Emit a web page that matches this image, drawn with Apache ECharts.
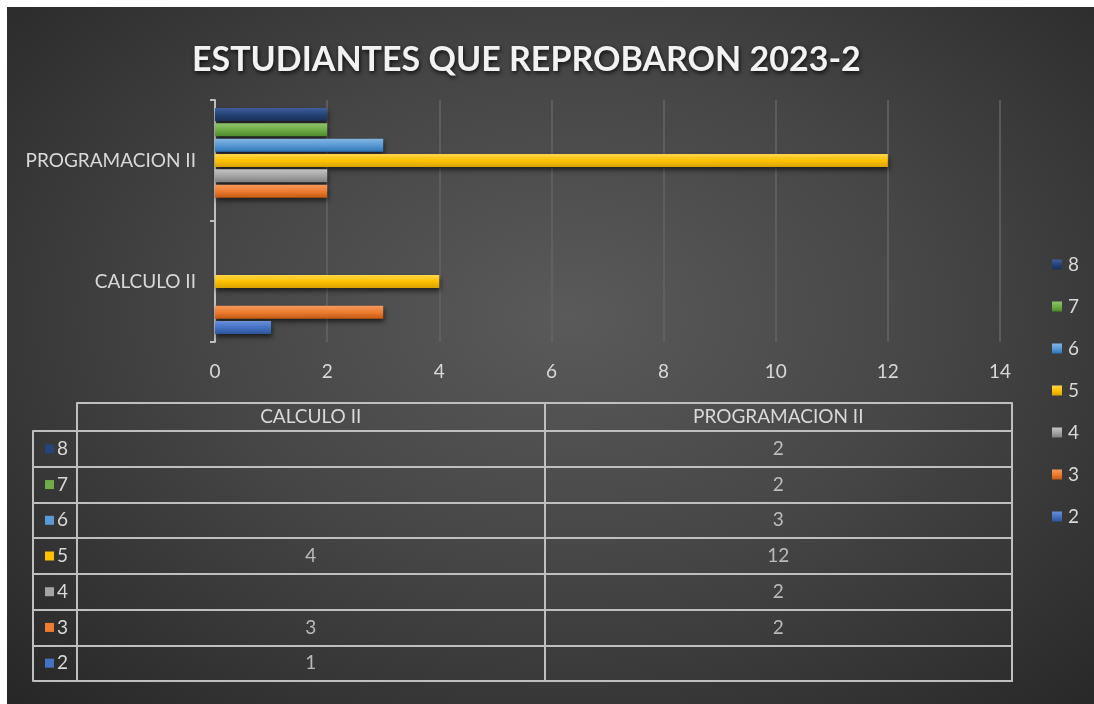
<!DOCTYPE html>
<html>
<head>
<meta charset="utf-8">
<script src="https://cdn.jsdelivr.net/npm/echarts@6/dist/echarts.min.js"></script>
<style>
html,body{margin:0;padding:0;background:#fff;}
#chart{position:absolute;left:0;top:0;width:1094px;height:704px;
background:
 linear-gradient(#fff,#fff) left top/100% 7px no-repeat,
 linear-gradient(#fff,#fff) left top/7px 100% no-repeat,
 radial-gradient(ellipse at 52% 45%, #5a5a5a 0%, #464646 45%, #262626 100%);}
</style>
</head>
<body>
<div id="chart"></div>
<script>
const titleText = 'ESTUDIANTES QUE REPROBARON 2023-2';
const categories = ['CALCULO II', 'PROGRAMACION II'];
const seriesNames = ['2', '3', '4', '5', '6', '7', '8'];
const s2 = [1, null];
const s3 = [3, 2];
const s4 = [null, 2];
const s5 = [4, 12];
const s6 = [null, 3];
const s7 = [null, 2];
const s8 = [null, 2];
const xTicks = [0, 2, 4, 6, 8, 10, 12, 14];

const seriesValues = [s2, s3, s4, s5, s6, s7, s8];
const colors = ['#4472C4', '#ED7D31', '#A5A5A5', '#FFC000', '#5B9BD5', '#70AD47', '#264478'];
const lightColors = ['#6a90d8', '#f49a5c', '#c4c4c4', '#ffd64d', '#84b6e3', '#8fc46b', '#3d5f9a'];
const darkColors = ['#2f5597', '#c55a11', '#7f7f7f', '#d9a300', '#2e75b6', '#4e8a2c', '#1a3158'];
const txt = '#d9d9d9';
const lineC = '#bfbfbf';
const font = 'Lato, "Open Sans", sans-serif';
const fs = 19;

const chart = echarts.init(document.getElementById('chart'), null, {renderer: 'canvas'});

function grad(i) {
  return new echarts.graphic.LinearGradient(0, 0, 0, 1, [
    {offset: 0, color: lightColors[i]},
    {offset: 0.5, color: colors[i]},
    {offset: 1, color: darkColors[i]}
  ]);
}

const rich = {t: {color: txt, fontSize: fs, fontFamily: font, padding: [0, 0, 0, 3]}};
seriesNames.forEach((n, i) => {
  rich['k' + n] = {width: 9, height: 9, backgroundColor: colors[i]};
});

// first series in ECharts horizontal bars is drawn at the top, so add them 8 -> 2
const barSeries = seriesNames.map((n, i) => ({
  name: n,
  type: 'bar',
  xAxisIndex: 0,
  yAxisIndex: 0,
  data: seriesValues[i],
  barWidth: 13,
  barGap: '18%',
  itemStyle: {
    color: grad(i),
    shadowBlur: 5,
    shadowColor: 'rgba(0,0,0,0.6)',
    shadowOffsetY: 3,
    shadowOffsetX: 1
  }
})).reverse();

const tableData = [];
seriesNames.forEach((n, i) => {
  categories.forEach((c, j) => {
    if (seriesValues[i][j] != null) tableData.push([c, n, seriesValues[i][j]]);
  });
});

const option = {
  animation: false,
  backgroundColor: 'transparent',
  title: {
    text: titleText,
    left: 192,
    top: 43,
    padding: 0,
    textStyle: {
      color: '#f2f2f2', fontSize: 34, fontWeight: 'bold', fontFamily: font,
      textShadowColor: 'rgba(0,0,0,0.8)', textShadowBlur: 4, textShadowOffsetX: 1, textShadowOffsetY: 2
    }
  },
  legend: {
    orient: 'vertical',
    left: 1052,
    top: 255,
    padding: 0,
    itemGap: 23,
    itemWidth: 10,
    itemHeight: 10,
    icon: 'rect',
    data: seriesNames.slice().reverse(),
    textStyle: {color: txt, fontSize: fs, fontFamily: font, padding: [0, 0, 0, 1]}
  },
  grid: [
    {left: 215, top: 100, width: 785, height: 242, containLabel: false},
    {left: 77, top: 431, width: 935, height: 250, containLabel: false, show: true, borderColor: lineC, borderWidth: 2}
  ],
  xAxis: [
    {
      gridIndex: 0, type: 'value', min: xTicks[0], max: xTicks[xTicks.length - 1], interval: 2,
      axisLine: {show: false}, axisTick: {show: false},
      splitLine: {lineStyle: {color: '#646464', width: 1.5}},
      axisLabel: {color: txt, fontSize: fs, fontFamily: font, margin: 20}
    },
    {
      gridIndex: 1, type: 'category', position: 'top', data: categories,
      axisLine: {show: true, lineStyle: {color: lineC, width: 2}},
      axisTick: {show: true, length: 28, lineStyle: {color: lineC, width: 2}},
      splitLine: {show: true, lineStyle: {color: lineC, width: 2}},
      axisLabel: {color: txt, fontSize: fs, fontFamily: font, margin: 5}
    },
    {
      gridIndex: 1, type: 'category', position: 'top', offset: 28, data: categories,
      axisLine: {show: true, lineStyle: {color: lineC, width: 2}},
      axisTick: {show: false}, axisLabel: {show: false}, splitLine: {show: false}
    }
  ],
  yAxis: [
    {
      gridIndex: 0, type: 'category', data: categories,
      axisLine: {show: true, lineStyle: {color: lineC, width: 2}},
      axisTick: {show: true, length: 5, lineStyle: {color: lineC, width: 2}},
      axisLabel: {color: txt, fontSize: fs, fontFamily: font, margin: 19}
    },
    {
      gridIndex: 1, type: 'category', data: seriesNames,
      axisLine: {show: true, lineStyle: {color: lineC, width: 2}},
      axisTick: {show: true, length: 44, lineStyle: {color: lineC, width: 2}},
      splitLine: {show: true, lineStyle: {color: lineC, width: 2}},
      axisLabel: {
        margin: 9,
        formatter: v => '{k' + v + '|}{t|' + v + '}',
        rich: rich
      }
    },
    {
      gridIndex: 1, type: 'category', data: seriesNames, position: 'left', offset: 44,
      axisLine: {show: true, lineStyle: {color: lineC, width: 2}},
      axisTick: {show: false}, axisLabel: {show: false}, splitLine: {show: false}
    }
  ],
  series: barSeries.concat([{
    type: 'scatter',
    xAxisIndex: 1,
    yAxisIndex: 1,
    data: tableData,
    symbol: 'rect',
    symbolSize: 1,
    itemStyle: {color: 'rgba(0,0,0,0)'},
    silent: true,
    label: {
      show: true, position: 'inside', color: txt, fontSize: fs, fontFamily: font,
      formatter: p => String(p.value[2])
    },
    legendHoverLink: false
  }])
};
chart.setOption(option);
</script>
</body>
</html>
